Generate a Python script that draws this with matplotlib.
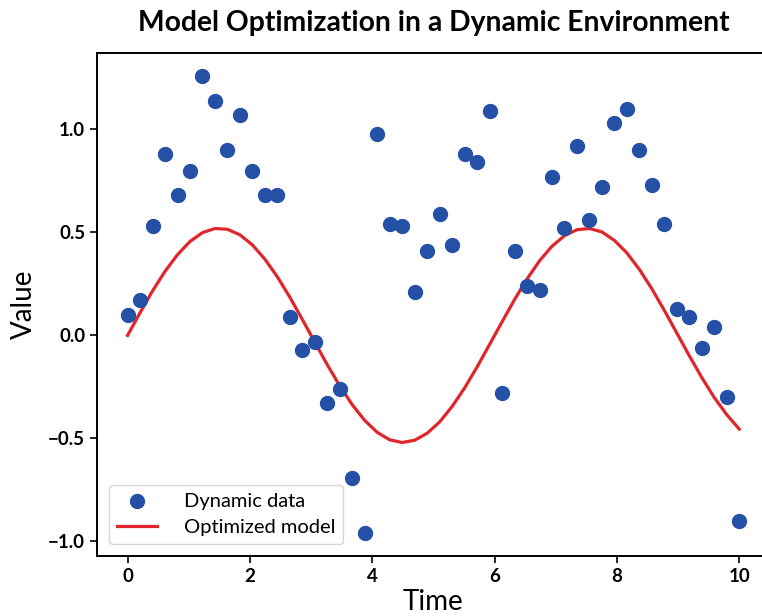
import numpy as np
import matplotlib
matplotlib.use("Agg")
import matplotlib.pyplot as plt

# time samples (50 points from 0 to 10)
time = np.linspace(0, 10, 50)

dynamic_data = [0.10, 0.17, 0.53, 0.88, 0.68, 0.80, 1.26, 1.14, 0.90, 1.07,
                0.80, 0.68, 0.68, 0.09, -0.07, -0.03, -0.33, -0.26, -0.69, -0.96,
                0.98, 0.54, 0.53, 0.21, 0.41, 0.59, 0.44, 0.88, 0.84, 1.09,
                -0.28, 0.41, 0.24, 0.22, 0.77, 0.52, 0.92, 0.56, 0.72, 1.03,
                1.10, 0.90, 0.73, 0.54, 0.13, 0.09, -0.06, 0.04, -0.30, -0.90]

# fitted model curve
model_values = [0.000, 0.110, 0.216, 0.311, 0.392, 0.456, 0.499, 0.519, 0.515, 0.488,
                0.439, 0.370, 0.284, 0.185, 0.077, -0.033, -0.143, -0.245, -0.337, -0.413,
                -0.471, -0.507, -0.520, -0.509, -0.475, -0.420, -0.345, -0.255, -0.153, -0.044,
                0.066, 0.174, 0.274, 0.362, 0.433, 0.484, 0.513, 0.519, 0.502, 0.461,
                0.400, 0.320, 0.226, 0.121, 0.011, -0.099, -0.205, -0.302, -0.385, -0.455]

plt.rcParams['font.family'] = ['Lato', 'DejaVu Sans']

fig = plt.figure(figsize=(7.62, 6.16), dpi=100)
ax = fig.add_axes([0.1273, 0.0974, 0.883, 0.8166])

ax.scatter(time, dynamic_data, s=100, color="#2450a6", label="Dynamic data", zorder=3)
ax.plot(time, model_values, color="#e0262b", linewidth=2.3, label="Optimized model", zorder=2)

ax.set_title("Model Optimization in a Dynamic Environment", fontsize=20.3, fontweight="bold", pad=16)
ax.set_xlabel("Time", fontsize=20, labelpad=3)
ax.set_ylabel("Value", fontsize=20, labelpad=8)
ax.set_xticks([0, 2, 4, 6, 8, 10])
ax.set_yticks([-1.0, -0.5, 0.0, 0.5, 1.0])
for lab in ax.get_xticklabels() + ax.get_yticklabels():
    lab.set_fontweight("bold")
ax.tick_params(labelsize=13.5, width=1.2, length=5)
for sp in ax.spines.values():
    sp.set_linewidth(1.4)

ax.legend(loc="lower left", fontsize=14.5, handlelength=2.0, labelspacing=0.45,
          borderpad=0.4, borderaxespad=0.6, handletextpad=1.3)

fig.savefig("out.png", dpi=100)
